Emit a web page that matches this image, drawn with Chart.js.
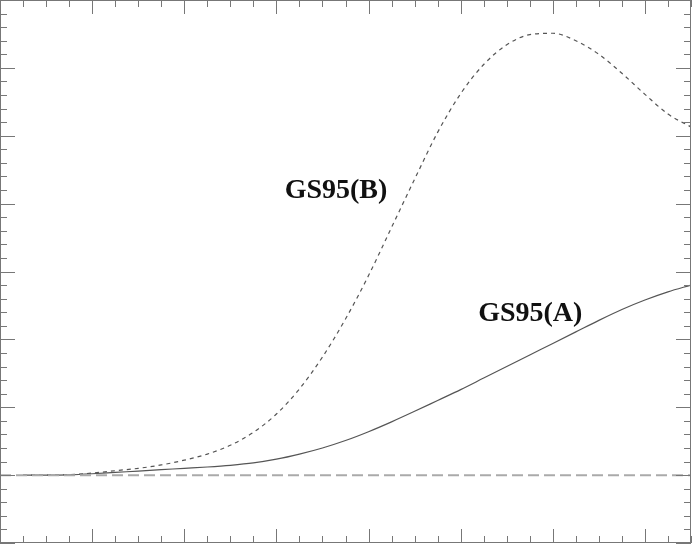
<!DOCTYPE html>
<html>
<head>
<meta charset="utf-8">
<script src="https://cdn.jsdelivr.net/npm/chart.js@4/dist/chart.umd.min.js"></script>
<style>
  html, body { margin: 0; padding: 0; background: #fff; }
  #wrap { width: 692px; height: 544px; }
</style>
</head>
<body>
<div id="wrap"><canvas id="c" width="692" height="544"></canvas></div>
<script>
// ── Data ─────────────────────────────────────────
const xValues = [0.25, 0.5, 0.75, 1, 1.25, 1.5, 1.75, 2, 2.25, 2.5, 2.75, 3, 3.25, 3.5, 3.75,
                 4, 4.25, 4.5, 4.75, 5, 5.25, 5.5, 5.75, 6, 6.25, 6.5, 6.75, 7, 7.25, 7.5];
const seriesA = [0, 0, 0.005, 0.02, 0.04, 0.06, 0.08, 0.10, 0.12, 0.145, 0.18, 0.235, 0.31, 0.40, 0.51,
                 0.64, 0.785, 0.94, 1.10, 1.26, 1.43, 1.60, 1.77, 1.94, 2.11, 2.28, 2.44, 2.58, 2.70, 2.80];
const seriesB = [0, 0.002, 0.008, 0.03, 0.065, 0.10, 0.15, 0.22, 0.31, 0.44, 0.63, 0.90, 1.27, 1.74, 2.30,
                 2.94, 3.65, 4.36, 5.05, 5.62, 6.05, 6.34, 6.49, 6.51, 6.40, 6.20, 5.92, 5.61, 5.32, 5.13];
const baseX = [0, 7.5];
const baseY = [0, 0];

const xRange = [0, 7.5];
const yRange = [-1, 7];
const xMajor = 1, xMinor = 0.25;
const yMajor = 1, yMinor = 0.2;

const labels = [
  { text: 'GS95(B)', x: 3.09, y: 4.09 },
  { text: 'GS95(A)', x: 5.19, y: 2.27 },
];

const pts = (xs, ys) => xs.map((x, i) => ({ x: x, y: ys[i] }));

// ── Frame, inward ticks and labels ──────────────
const framePlugin = {
  id: 'frame',
  afterDraw(chart) {
    const ctx = chart.ctx;
    const a = chart.chartArea;
    const xs = chart.scales.x, ys = chart.scales.y;
    ctx.save();
    ctx.strokeStyle = '#777';
    ctx.lineWidth = 1;
    ctx.strokeRect(a.left + 0.5, a.top + 0.5, a.right - a.left - 1, a.bottom - a.top - 1);

    ctx.beginPath();
    const nx = Math.round((xRange[1] - xRange[0]) / xMinor);
    for (let i = 0; i <= nx; i++) {
      const v = xRange[0] + i * xMinor;
      const major = Math.abs(v / xMajor - Math.round(v / xMajor)) < 1e-6;
      const len = major ? 14 : 7;
      const px = Math.round(xs.getPixelForValue(v)) + 0.5;
      ctx.moveTo(px, a.bottom); ctx.lineTo(px, a.bottom - len);
      ctx.moveTo(px, a.top);    ctx.lineTo(px, a.top + len);
    }
    const ny = Math.round((yRange[1] - yRange[0]) / yMinor);
    for (let i = 0; i <= ny; i++) {
      const v = yRange[0] + i * yMinor;
      const major = Math.abs(v / yMajor - Math.round(v / yMajor)) < 1e-6;
      const len = major ? 15 : 7;
      const py = Math.round(ys.getPixelForValue(v)) + 0.5;
      ctx.moveTo(a.left, py);  ctx.lineTo(a.left + len, py);
      ctx.moveTo(a.right, py); ctx.lineTo(a.right - len, py);
    }
    ctx.stroke();

    ctx.fillStyle = '#111';
    ctx.font = 'bold 28px "Liberation Serif", "DejaVu Serif", serif';
    ctx.textBaseline = 'alphabetic';
    labels.forEach(l => {
      ctx.fillText(l.text, xs.getPixelForValue(l.x), ys.getPixelForValue(l.y));
    });
    ctx.restore();
  }
};

new Chart(document.getElementById('c'), {
  type: 'scatter',
  data: {
    datasets: [
      { label: 'base', data: pts(baseX, baseY), showLine: true, borderColor: '#aaa',
        borderWidth: 2, borderDash: [11, 5], pointRadius: 0 },
      { label: 'GS95(A)', data: pts(xValues, seriesA), showLine: true, borderColor: '#555',
        borderWidth: 1.2, pointRadius: 0, cubicInterpolationMode: 'monotone' },
      { label: 'GS95(B)', data: pts(xValues, seriesB), showLine: true, borderColor: '#555',
        borderWidth: 1.2, borderDash: [4, 4], pointRadius: 0, cubicInterpolationMode: 'monotone' },
    ],
  },
  options: {
    responsive: false,
    animation: false,
    layout: { padding: { left: 0, top: 0, right: 1, bottom: 1 } },
    plugins: { legend: { display: false }, tooltip: { enabled: false } },
    scales: {
      x: { type: 'linear', min: xRange[0], max: xRange[1], display: false },
      y: { type: 'linear', min: yRange[0], max: yRange[1], display: false },
    },
  },
  plugins: [framePlugin],
});
</script>
</body>
</html>
